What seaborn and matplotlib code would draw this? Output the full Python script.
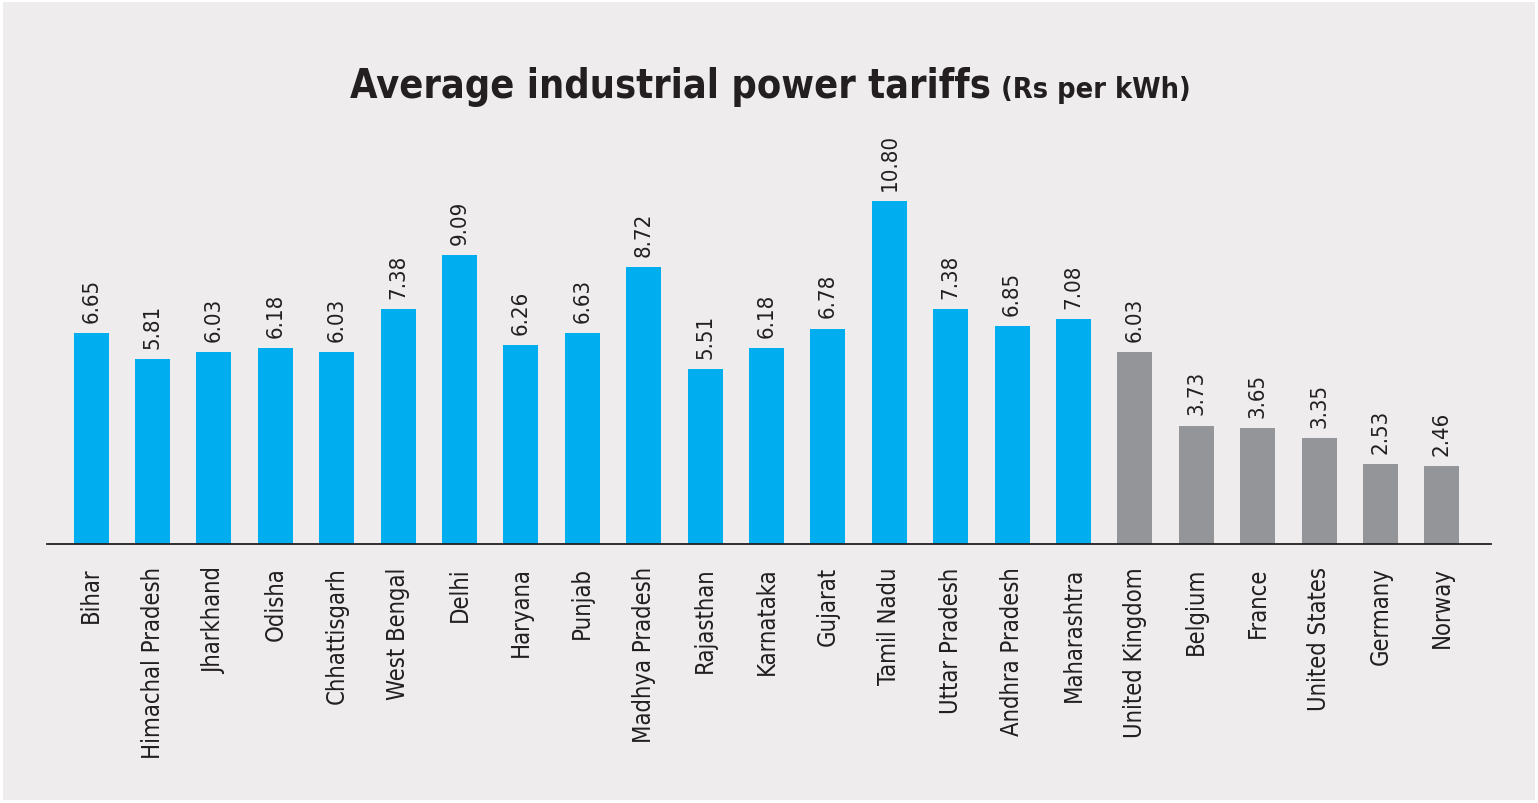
import pandas as pd
import seaborn as sns
import matplotlib.pyplot as plt
from matplotlib.patches import Rectangle

categories = ['Bihar', 'Himachal Pradesh', 'Jharkhand', 'Odisha', 'Chhattisgarh', 'West Bengal',
              'Delhi', 'Haryana', 'Punjab', 'Madhya Pradesh', 'Rajasthan', 'Karnataka', 'Gujarat',
              'Tamil Nadu', 'Uttar Pradesh', 'Andhra Pradesh', 'Maharashtra', 'United Kingdom',
              'Belgium', 'France', 'United States', 'Germany', 'Norway']
tariffs = [6.65, 5.81, 6.03, 6.18, 6.03, 7.38, 9.09, 6.26, 6.63, 8.72, 5.51, 6.18, 6.78,
           10.80, 7.38, 6.85, 7.08, 6.03, 3.73, 3.65, 3.35, 2.53, 2.46]
groups = ['India'] * 17 + ['Global'] * 6

BLUE = '#00aeef'
GREY = '#939598'
INK = '#231f20'
BG = '#eeeced'

sns.set_style('white')
plt.rcParams['font.family'] = ['DejaVu Sans']
plt.rcParams['font.stretch'] = 'condensed'

df = pd.DataFrame({'state': categories, 'tariff': tariffs, 'group': groups})

fig = plt.figure(figsize=(15.38, 8.04), dpi=100, facecolor='white')
fig.patches.append(Rectangle((3 / 1538, 3 / 804), 1532 / 1538, 798 / 804,
                             transform=fig.transFigure, facecolor=BG, edgecolor='none', zorder=-10))
ax = fig.add_axes([47 / 1538, 0.322, (1491 - 47) / 1538, 0.516])
ax.set_facecolor('none')


def fit_size(txt, size, target_px, **kw):
    # font size that gives a text of the wanted width in pixels
    t = fig.text(0, 0, txt, fontsize=size, **kw)
    fig.canvas.draw()
    w = t.get_window_extent().width
    t.remove()
    return size * target_px / w


label_size = fit_size('Himachal Pradesh', 20, 193)
value_size = fit_size('10.80', 20, 57)

sns.barplot(data=df, x='state', y='tariff', hue='group', palette={'India': BLUE, 'Global': GREY},
            width=0.57, dodge=False, legend=False, saturation=1, linewidth=0, ax=ax)

for i, v in enumerate(tariffs):
    ax.annotate(f'{v:.2f}', (i, v), xytext=(0, 8), textcoords='offset points',
                rotation=90, ha='center', va='bottom', fontsize=value_size, color=INK)

ax.set_xlim(-0.72, 22.8)
ax.set_ylim(0, 13.05)
ax.set_xlabel('')
ax.set_ylabel('')
ax.set_yticks([])
ax.tick_params(axis='x', length=0, pad=16, labelsize=label_size, labelcolor=INK)
plt.setp(ax.get_xticklabels(), rotation=90, ha='center', va='top')
for s in ['top', 'right', 'left']:
    ax.spines[s].set_visible(False)
ax.spines['bottom'].set_color(INK)
ax.spines['bottom'].set_linewidth(1.3)

# title in two parts
main_size = fit_size('Average industrial power tariffs', 40, 640, fontweight='bold')
sub_size = fit_size('(Rs per kWh)', 20, 190, fontweight='bold')
t1 = fig.text(350 / 1538, 1 - 98 / 804, 'Average industrial power tariffs', fontsize=main_size,
              fontweight='bold', color=INK, ha='left', va='baseline')
fig.canvas.draw()
bb = t1.get_window_extent()
fig.text((bb.x1 + 10) / 1538, 1 - 98 / 804, '(Rs per kWh)', fontsize=sub_size,
         fontweight='bold', color=INK, ha='left', va='baseline')

fig.savefig('out.png', dpi=100, facecolor='white')
